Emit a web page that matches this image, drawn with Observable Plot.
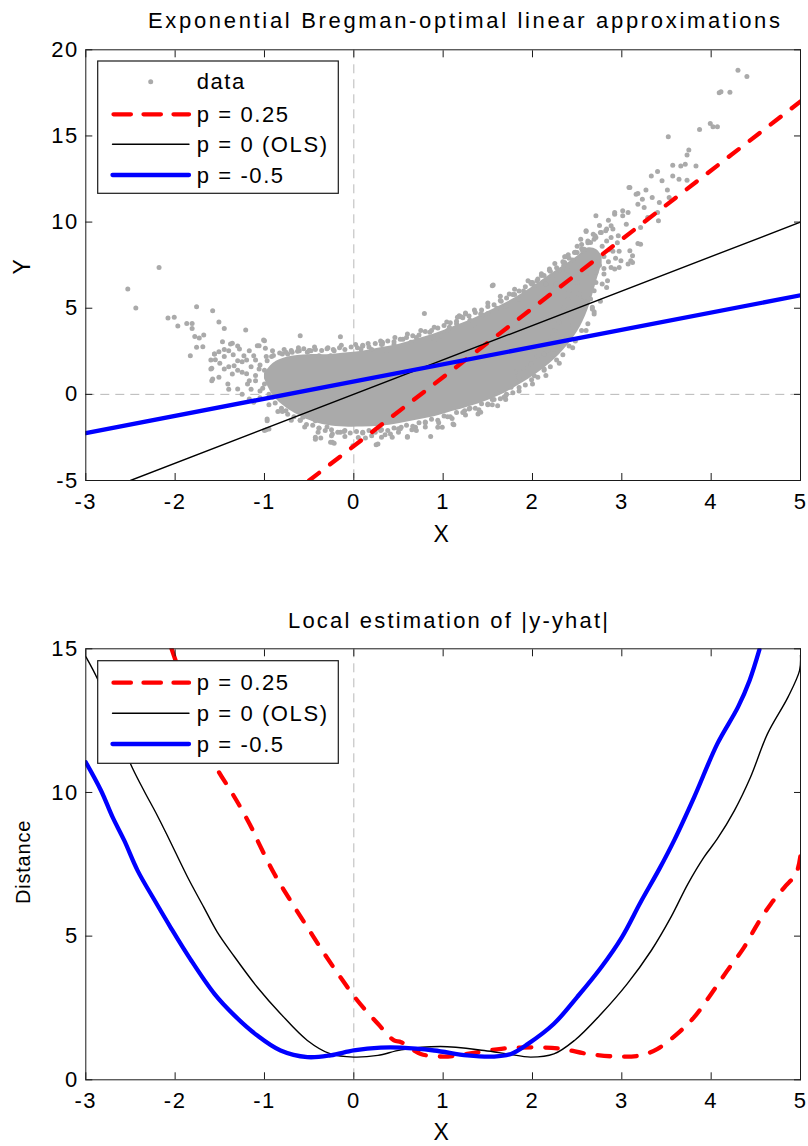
<!DOCTYPE html>
<html>
<head>
<meta charset="utf-8">
<script src="https://cdn.jsdelivr.net/npm/d3@7"></script>
<script src="https://cdn.jsdelivr.net/npm/@observablehq/plot@0.6"></script>
<style>
html,body{margin:0;padding:0;background:#fff;}
#wrap{position:relative;width:808px;height:1146px;overflow:hidden;font-family:"Liberation Sans",Arial,sans-serif;}
#top,#bot{position:absolute;left:0;}
#top{top:0;} #bot{top:560px;}
#ov{position:absolute;left:0;top:0;}
#ov text{font-family:"Liberation Sans",Arial,sans-serif;fill:#000;}
</style>
</head>
<body>
<div id="wrap"><div id="top"></div><div id="bot"></div>
<svg id="ov" width="808" height="1146"></svg></div>
<script>
// ---------- axis ticks ----------
const xTicks = [-3, -2, -1, 0, 1, 2, 3, 4, 5];
const yTicksTop = [-5, 0, 5, 10, 15, 20];
const yTicksBot = [0, 5, 10, 15];

// ---------- top panel: fitted lines (endpoints) ----------
const lineP025X = [-0.5, 5];   const lineP025Y = [-5, 17];
const lineOLSX  = [-2.5, 5];   const lineOLSY  = [-5, 10];
const lineM05X  = [-3, 5];     const lineM05Y  = [-2.25, 5.75];

// ---------- top panel: dense (solid-looking) core of the cloud, edges ----------
const coreX   = [-1.0,-0.9,-0.75,-0.5,-0.3,-0.1,0.1,0.3,0.5,0.7,0.9,1.1,1.3,1.5,1.7,1.9,2.1,2.3,2.5,2.62,2.72,2.78];
const coreTop = [1.2,1.8,2.15,2.3,2.3,2.4,2.5,2.7,2.9,3.2,3.5,3.9,4.3,4.8,5.3,5.9,6.6,7.3,8.0,8.5,8.4,8.0];
const coreBot = [0.9,-0.1,-0.8,-1.5,-1.8,-1.9,-1.9,-1.85,-1.7,-1.5,-1.3,-1.0,-0.7,-0.35,0.1,0.7,1.4,2.3,3.6,4.9,6.6,7.6];

// ---------- top panel: individual data points ----------
const dataPoints = [
[-2.18,7.37],[-2.53,6.11],[-2.44,5.01],[-2.08,4.43],[-2.01,4.47],[-1.97,3.97],[-1.87,4.12],[-1.81,4.12],[-1.81,3.83],[-1.76,5.09],
[-1.58,4.86],[-1.78,3.36],[-1.73,3.27],[-1.68,3.45],[-1.76,2.73],[-1.69,2.77],[-1.83,2.24],[-1.51,4.2],[-1.45,3.83],[-1.21,3.73],
[-1.47,3.06],[-1.36,2.96],[-1.56,2.34],[-1.51,2.48],[-1.55,2.01],[-1.59,1.51],[-1.58,0.89],[-1.51,0.99],[-1.45,1.47],[-1.40,2.53],
[-1.28,2.63],[-1.23,2.24],[-1.17,2.53],[-1.41,0.6],[-1.30,0.31],[-1.36,1.18],[-1.30,1.95],[-1.25,1.28],[-1.17,0.79],[-1.12,2.24],
[-1.06,2.82],[-1.01,3.16],[-0.99,2.67],[-0.97,-1.53],[-0.95,-2.01],[-1.0,-2.1],[-0.60,3.40],[-0.43,-2.49],[-0.43,-2.6],[-0.37,-2.53],
[-0.24,-2.78],[-0.39,-1.97],[-0.61,2.53],[-0.50,2.53],[-0.39,2.24],[-0.15,3.35],[-0.26,-2.78],[-0.15,-2.2],[0.25,-2.92],[0.13,-2.53],
[0.31,-2.49],[0.41,-2.3],[-0.97,-1.43],[-0.98,-2.05],
[0.79,4.70],[1.56,6.35],[1.25,4.72],[2.19,7.21],[2.22,6.88],[2.0,6.5],[1.74,5.82],[0.32,3.02],[0.64,3.02],[0.97,3.4],[1.07,3.89],
[1.18,4.56],[1.44,4.62],[-0.01,-2.98],[0.27,-2.88],[0.43,-2.49],[0.60,-2.49],[0.94,-1.91],[1.11,-1.72],[1.39,-1.14],[1.68,-0.17],
[1.76,0.41],[1.98,1.76],[2.02,1.08],[2.13,2.34],[2.28,2.92],[1.50,-0.56],[1.24,-0.95],[0.69,-1.91],[-0.24,-2.3],[-0.22,-2.84],
[4.30,18.82],[4.40,18.45],[4.09,17.5],[4.11,17.56],[4.21,17.54],[3.99,15.72],[4.02,15.53],[4.07,15.53],[3.87,15.37],[3.52,14.95],
[3.75,14.19],[3.73,13.9],[3.57,13.3],[3.66,13.26],[3.71,13.36],[3.83,13.26],[3.40,12.93],[3.33,12.68],[3.45,12.4],[3.57,12.68],
[3.64,12.49],[3.73,12.43],[3.51,11.86],[3.09,12.0],[3.18,11.66],[3.27,11.86],[3.34,11.43],[3.42,11.14],[3.53,11.43],[3.40,10.56],
[3.41,10.08],[2.71,10.37],[2.92,10.46],[3.01,10.37],[3.07,10.56],[3.18,11.04],[3.23,11.33],[3.25,10.85],[3.29,10.27],[3.21,9.69],
[3.05,9.88],[2.96,9.2],[2.88,9.79],[3.18,8.76],[3.21,8.72],[3.09,8.33],[3.10,7.75],[3.12,8.05],[3.07,7.56],[2.97,7.37],
[2.82,9.5],[2.77,9.4],[2.60,9.5],[2.54,9.01],[2.65,8.82],[2.71,9.1],[2.36,7.99],[2.36,7.66],[2.47,8.24],[2.56,8.33],
[2.39,7.17],[2.88,7.37],[2.80,6.98],[2.84,6.6],[2.78,6.4],[2.71,6.5],[2.65,5.53],[2.67,4.95],[2.54,4.95],[2.43,4.47],
[2.45,3.98],[2.58,5.63],[2.19,3.31],[2.22,2.34],[2.17,2.53],
[3.08,12.0],[3.16,11.62],[2.92,10.56],[3.01,10.66],[2.60,9.46],[2.50,8.24],[2.58,8.43],[2.37,7.99],[2.71,7.08],[2.19,7.27],
[2.92,7.27],[2.69,6.02],[2.99,7.75],[3.12,7.66],[1.98,6.5],[2.02,6.31],[1.55,6.31],[1.42,4.66],[1.16,4.47],[1.25,4.66],
[2.26,6.4],[2.41,6.02],[2.52,5.82],
[-0.91,2.53],[-0.80,2.34],[-0.69,2.44],[-0.52,2.44],[-0.26,2.24],[-1.06,1.47],[-1.10,0.79],[-0.91,-0.17],[-0.76,-0.95],[-0.57,-1.33],
[-0.43,-1.53],[-1.38,2.92],[-1.08,2.82],[-1.0,3.11],[-0.74,2.34],[-0.48,2.53],[-0.22,2.53],[0.08,2.63],[0.32,2.92],[0.37,2.53],
[-1.56,2.34],[-1.60,1.47],[-1.59,0.79],[-1.34,1.66],[-1.19,0.6],[-1.17,-0.27],[-1.12,-0.46],
[0.60,-2.45],[0.86,-2.45],[1.12,-1.76],[0.99,-1.91],[1.42,-1.04],[1.61,-0.66],[1.70,-0.08],[1.81,1.28],[2.13,1.47],[2.24,2.34],
[2.39,3.31],[2.69,4.66],[2.67,5.05],[0.53,-1.91],
[0.1,2.8],[0.2,2.6],[0.45,2.9],[0.55,3.2],[0.7,3.3],[0.85,3.6],[0.9,3.2],[1.05,3.7],[1.15,4.1],[1.3,4.3],
[1.35,4.0],[1.5,4.7],[1.6,5.0],[1.65,5.4],[1.7,5.1],[1.8,5.8],[1.85,5.5],[1.9,6.0],[2.05,6.6],[2.1,6.9],
[2.15,6.4],[2.3,7.2],[2.35,7.5],[2.45,7.8],[2.5,8.6],[2.62,8.9],[2.68,9.3],[2.75,9.8],[2.85,10.1],[2.9,9.6],
[2.95,8.8],[2.9,8.3],[2.8,8.0],[2.85,7.7],[2.75,7.5],[2.6,7.0],[2.5,6.5],[2.4,5.5],[2.35,5.0],[2.3,4.2],
[2.25,3.7],[2.1,2.9],[2.05,2.2],[1.9,1.5],[1.85,1.0],[1.6,0.1],[1.55,-0.3],[1.3,-0.8],[1.05,-1.3],[0.8,-1.6],
[0.7,-2.1],[0.5,-2.0],[0.3,-2.1],[0.1,-2.2],[-0.1,-2.1],[-0.3,-1.9],[-0.6,-1.5],[-0.8,-1.0],[-0.95,-0.6],[-1.05,0.2],
// upper fringe
[-0.92,2.2],[-0.78,2.6],[-0.62,2.7],[-0.44,2.75],[-0.29,2.7],[-0.14,2.85],[0.02,2.9],[0.16,2.95],[0.3,3.1],[0.46,3.3],
[0.6,3.5],[0.75,3.7],[0.9,3.9],[1.04,4.2],[1.2,4.5],[1.35,4.9],[1.5,5.3],[1.64,5.7],[1.8,6.1],[1.95,6.6],
[2.1,7.0],[2.25,7.6],[2.4,8.1],[2.55,8.7],[2.7,9.2],
[-0.97,1.95],[-0.9,2.25],[-0.83,2.4],[-0.76,2.45],[-0.7,2.55],[-0.63,2.5],[-0.56,2.65],[-0.5,2.55],[-0.43,2.6],[-0.36,2.55],
[-0.3,2.65],[-0.23,2.6],[-0.16,2.7],[-0.1,2.6],[-0.03,2.75],[0.04,2.7],[0.1,2.85],[0.17,2.75],[0.24,2.95],[0.31,2.9],
[0.38,3.1],[0.45,3.05],[0.52,3.2],[0.59,3.3],[0.66,3.4],[0.73,3.45],[0.8,3.65],[0.87,3.7],[0.94,3.85],[1.01,4.0],
[1.08,4.15],[1.15,4.25],[1.22,4.45],[1.29,4.55],[1.36,4.75],[1.43,4.9],[1.5,5.1],[1.57,5.2],[1.64,5.45],[1.71,5.6],
[1.78,5.8],[1.85,6.0],[1.92,6.25],[1.99,6.4],[2.06,6.7],[2.13,6.9],[2.2,7.15],[2.27,7.35],[2.34,7.7],[2.41,7.9],
[2.48,8.25],[2.55,8.45],[2.62,8.8],[2.69,9.0],[2.76,9.4],[2.83,9.6],
// lower fringe
[-0.85,-1.0],[-0.7,-1.5],[-0.55,-1.9],[-0.4,-2.2],[-0.25,-2.4],[-0.1,-2.45],[0.05,-2.5],[0.2,-2.4],[0.35,-2.35],[0.5,-2.2],
[0.65,-2.05],[0.8,-1.9],[0.95,-1.65],[1.1,-1.4],[1.25,-1.2],[1.4,-0.9],[1.55,-0.6],[1.7,-0.3],[1.85,0.2],[2.0,0.6],
[2.15,1.1],[2.3,1.8],[2.45,2.7],[2.6,3.7],
[-1.02,0.35],[-0.95,0.0],[-0.88,-0.5],[-0.81,-0.8],[-0.74,-1.15],[-0.67,-1.3],[-0.6,-1.5],[-0.53,-1.75],[-0.46,-1.8],[-0.39,-1.95],
[-0.32,-2.1],[-0.25,-2.05],[-0.18,-2.2],[-0.11,-2.15],[-0.04,-2.25],[0.03,-2.15],[0.1,-2.25],[0.17,-2.1],[0.24,-2.2],[0.31,-2.05],
[0.38,-2.1],[0.45,-1.95],[0.52,-2.0],[0.59,-1.8],[0.66,-1.85],[0.73,-1.65],[0.8,-1.65],[0.87,-1.45],[0.94,-1.5],[1.01,-1.25],
[1.08,-1.3],[1.15,-1.05],[1.22,-1.05],[1.29,-0.85],[1.36,-0.8],[1.43,-0.55],[1.5,-0.6],[1.57,-0.3],[1.64,-0.25],[1.71,0.0],
[1.78,0.1],[1.85,0.4],[1.92,0.55],[1.99,0.85],[2.06,1.0],[2.13,1.4],[2.2,1.6],[2.27,2.0],[2.34,2.3],[2.41,2.8],
[2.48,3.1],[2.55,3.7],[2.62,4.1],[2.69,4.8],[2.76,5.4],[2.83,6.2],
// left wing
[-1.5,1.8],[-1.45,2.2],[-1.4,1.6],[-1.35,2.3],[-1.3,1.4],[-1.25,1.9],[-1.2,1.2],[-1.2,2.0],[-1.15,1.6],[-1.1,2.0],
[-1.1,1.1],[-1.05,1.7],[-1.0,0.6],[-1.0,1.4],[-0.98,2.2],[-1.4,0.3],[-1.25,0.0],[-1.15,0.3],[-1.05,-0.2],[-1.3,2.8],
[-1.45,2.6],[-1.6,2.0],
// tail of the cloud
[2.74,7.9],[2.8,7.3],[2.86,8.4],[2.93,7.9],[2.97,8.3],[2.83,8.9],[2.78,8.6],[2.88,9.1]
];

// ---------- bottom panel: local |y-yhat| curves ----------
const distP025X = [-2.04,-1.56,-1.38,-1.27,-1.13,-1.06,-0.89,-0.71,-0.52,-0.33,-0.15,0.04,0.27,0.45,0.53,0.75,1.01,1.27,1.65,2.02,2.32,2.62,2.95,3.21,3.40,3.62,3.81,4.0,4.18,4.37,4.52,4.67,4.82,4.95,5.0];
const distP025Y = [15.0,11.0,10.07,9.49,8.68,8.21,7.17,6.24,5.31,4.39,3.57,2.76,1.95,1.37,1.31,0.90,0.81,0.90,1.08,1.13,1.08,0.90,0.81,0.85,1.08,1.60,2.18,2.99,3.80,4.62,5.43,6.13,6.70,7.17,7.81];
const distOLSX = [-3,-2.87,-2.76,-2.50,-2.35,-2.20,-2.07,-1.86,-1.68,-1.53,-1.34,-1.08,-0.82,-0.52,-0.26,0,0.27,0.53,0.97,1.46,1.72,1.98,2.24,2.47,2.77,3.06,3.33,3.55,3.74,3.92,4.07,4.26,4.44,4.63,4.86,4.99,5.0];
const distOLSY = [14.73,13.96,13.09,11.0,10.07,9.2,8.39,7.05,6.01,5.15,4.3,3.22,2.30,1.37,0.90,0.79,0.85,1.04,1.16,1.02,0.90,0.79,0.90,1.37,2.30,3.34,4.50,5.66,6.82,7.75,8.39,9.37,10.53,12.04,13.32,14.25,14.77];
const distM05X = [-3,-2.83,-2.70,-2.57,-2.42,-2.24,-2.05,-1.83,-1.56,-1.34,-1.08,-0.82,-0.52,-0.26,0,0.30,0.53,0.90,1.27,1.57,1.76,1.95,2.24,2.50,2.77,3.0,3.21,3.42,3.59,3.81,4.07,4.30,4.43,4.54];
const distM05Y = [11.05,10.07,9.14,8.33,7.28,6.3,5.3,4.2,2.99,2.25,1.54,1.02,0.79,0.85,1.02,1.12,1.12,1.02,0.85,0.81,0.90,1.25,1.95,2.88,3.92,4.96,6.18,7.34,8.36,9.84,11.7,12.97,13.9,14.97];

const legendLabelsTop = ["data", "p = 0.25", "p = 0 (OLS)", "p = -0.5"];
const legendLabelsBot = ["p = 0.25", "p = 0 (OLS)", "p = -0.5"];

// ---------- styles ----------
const GRAY = "#aaaaaa", RED = "#ff0000", BLUE = "#0000ff", AX = "#1a1a1a";
const zip = (xs, ys) => xs.map((x, i) => ({x, y: ys[i]}));
const plotStyle = {fontFamily: '"Liberation Sans", Arial, sans-serif', fontSize: "22px", letterSpacing: "1.5px", color: "#000", background: "transparent", overflow: "visible"};
const fmt = d => String(d);

function axesMarks(yTicks) {
  return [
    Plot.frame({stroke: AX, strokeWidth: 1}),
    Plot.axisX(xTicks, {anchor: "bottom", tickSize: 7, dy: -7, fill: "none", stroke: AX, label: null}),
    Plot.axisX(xTicks, {anchor: "top", tickSize: 7, dy: 7, fill: "none", stroke: AX, label: null}),
    Plot.axisY(yTicks, {anchor: "left", tickSize: 7, dx: 7, fill: "none", stroke: AX, label: null}),
    Plot.axisY(yTicks, {anchor: "right", tickSize: 7, dx: -7, fill: "none", stroke: AX, label: null}),
    Plot.axisX(xTicks, {anchor: "bottom", tickSize: 0, tickPadding: 13, fill: "#000", label: null, tickFormat: fmt}),
    Plot.axisY(yTicks, {anchor: "left", tickSize: 0, tickPadding: 7, fill: "#000", label: null, tickFormat: fmt})
  ];
}

const topPlot = Plot.plot({
  width: 808, height: 560,
  marginLeft: 85.3, marginRight: 8, marginTop: 49.3, marginBottom: 80,
  style: plotStyle,
  x: {domain: [-3, 5]},
  y: {domain: [-5, 20]},
  marks: [
    Plot.ruleX([0], {stroke: "#b8b8b8", strokeDasharray: "9,6", strokeWidth: 1}),
    Plot.ruleY([0], {stroke: "#b8b8b8", strokeDasharray: "9,6", strokeWidth: 1}),
    Plot.areaY(coreX.map((x, i) => ({x, top: coreTop[i], bot: coreBot[i]})),
      {x: "x", y1: "bot", y2: "top", fill: GRAY, curve: "catmull-rom"}),
    Plot.dot(dataPoints, {x: d => d[0], y: d => d[1], r: 2.5, fill: GRAY, stroke: "none", clip: true}),
    Plot.line(zip(lineP025X, lineP025Y), {x: "x", y: "y", stroke: RED, strokeWidth: 4.3, strokeDasharray: "12.5,14", strokeLinecap: "round", clip: true}),
    Plot.line(zip(lineOLSX, lineOLSY), {x: "x", y: "y", stroke: "#000", strokeWidth: 1.4, clip: true}),
    Plot.line(zip(lineM05X, lineM05Y), {x: "x", y: "y", stroke: BLUE, strokeWidth: 4.3, clip: true}),
    ...axesMarks(yTicksTop)
  ]
});
document.getElementById("top").appendChild(topPlot);

const botPlot = Plot.plot({
  width: 808, height: 586,
  marginLeft: 85.3, marginRight: 8, marginTop: 88.3, marginBottom: 66.7,
  style: plotStyle,
  x: {domain: [-3, 5]},
  y: {domain: [0, 15]},
  marks: [
    Plot.ruleX([0], {stroke: "#b8b8b8", strokeDasharray: "9,6", strokeWidth: 1}),
    Plot.line(zip(distP025X, distP025Y), {x: "x", y: "y", stroke: RED, strokeWidth: 4.3, strokeDasharray: "12.5,14", strokeLinecap: "round", curve: "catmull-rom", clip: true}),
    Plot.line(zip(distOLSX, distOLSY), {x: "x", y: "y", stroke: "#000", strokeWidth: 1.4, curve: "catmull-rom", clip: true}),
    Plot.line(zip(distM05X, distM05Y), {x: "x", y: "y", stroke: BLUE, strokeWidth: 4.3, curve: "catmull-rom", clip: true}),
    ...axesMarks(yTicksBot)
  ]
});
document.getElementById("bot").appendChild(botPlot);

// ---------- overlay: titles, axis labels, legends ----------
const ov = d3.select("#ov");
function txt(x, y, s, opts = {}) {
  const t = ov.append("text").attr("x", x).attr("y", y).text(s)
    .attr("font-size", opts.size || 21);
  if (opts.anchor) t.attr("text-anchor", opts.anchor);
  if (opts.len) t.attr("textLength", opts.len).attr("lengthAdjust", "spacing");
  else t.attr("letter-spacing", opts.ls == null ? 1.8 : opts.ls);
  if (opts.rotate) t.attr("transform", `rotate(-90 ${x} ${y})`);
  return t;
}
txt(148, 28.3, "Exponential Bregman-optimal linear approximations", {size: 22, len: 632});
txt(288, 628, "Local estimation of |y-yhat|", {size: 22, len: 320});
txt(442, 541.7, "X", {anchor: "middle", size: 23});
txt(442, 1140, "X", {anchor: "middle", size: 23});
txt(30, 266, "Y", {anchor: "middle", size: 23, rotate: true});
txt(30, 862, "Distance", {anchor: "middle", size: 20, rotate: true, ls: 0.8});

function legend(x0, y0, x1, y1, items) {
  ov.append("rect").attr("x", x0).attr("y", y0).attr("width", x1 - x0).attr("height", y1 - y0)
    .attr("fill", "#fff").attr("stroke", AX).attr("stroke-width", 1.2);
  for (const it of items) {
    if (it.kind === "dot") {
      ov.append("circle").attr("cx", 150.7).attr("cy", it.y).attr("r", 2.5).attr("fill", GRAY);
    } else {
      const l = ov.append("line").attr("x1", it.kind === "red" ? 113.5 : 112.5).attr("x2", 189)
        .attr("y1", it.y).attr("y2", it.y)
        .attr("stroke", it.kind === "red" ? RED : it.kind === "blue" ? BLUE : "#000")
        .attr("stroke-width", it.kind === "black" ? 1.4 : 4.3).attr("stroke-linecap", "round");
      if (it.kind === "red") l.attr("stroke-dasharray", "17.4,12.6");
    }
    txt(196.7, it.y + 7.6, it.label, {size: 22, ls: 1.6});
  }
}
legend(97.7, 61, 338.3, 193.3, [
  {kind: "dot", y: 81.7, label: legendLabelsTop[0]},
  {kind: "red", y: 114.3, label: legendLabelsTop[1]},
  {kind: "black", y: 144.3, label: legendLabelsTop[2]},
  {kind: "blue", y: 175, label: legendLabelsTop[3]}
]);
legend(97.7, 660.7, 338.3, 763.3, [
  {kind: "red", y: 682.7, label: legendLabelsBot[0]},
  {kind: "black", y: 713.3, label: legendLabelsBot[1]},
  {kind: "blue", y: 744, label: legendLabelsBot[2]}
]);
</script>
</body>
</html>
